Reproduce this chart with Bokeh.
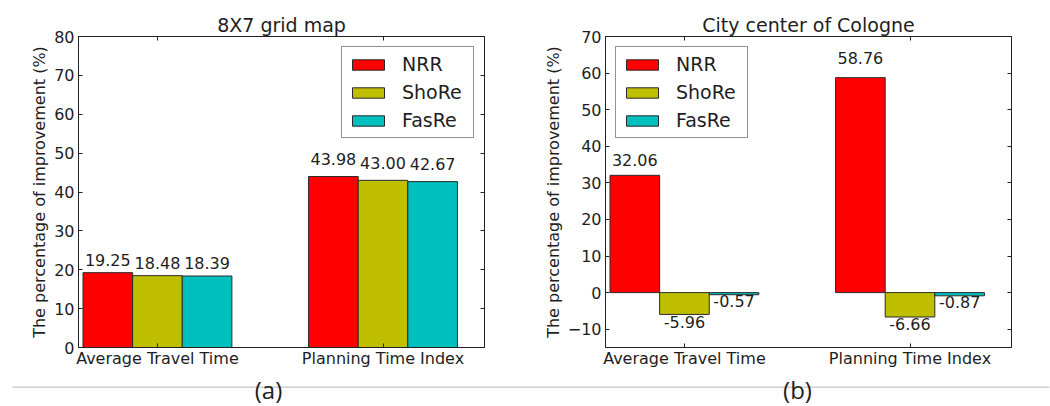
from bokeh.plotting import figure
from bokeh.layouts import row, column
from bokeh.models import (Range1d, FixedTicker, LinearAxis, Legend, LegendItem,
                          Label, BoxAnnotation, ColumnDataSource, Title)
from bokeh.core.properties import value
from bokeh.embed import file_html
from bokeh.resources import INLINE

# --- data -------------------------------------------------------------
metrics = ["Average Travel Time", "Planning Time Index"]
methods = ["NRR", "ShoRe", "FasRe"]
colors = ["#ff0000", "#bfbf00", "#00bfbf"]

grid_nrr = [19.25, 43.98]
grid_shore = [18.48, 43.00]
grid_fasre = [18.39, 42.67]

cologne_nrr = [32.06, 58.76]
cologne_shore = [-5.96, -6.66]
cologne_fasre = [-0.57, -0.87]

grid_ticks = [0, 10, 20, 30, 40, 50, 60, 70, 80]
cologne_ticks = [-10, 0, 10, 20, 30, 40, 50, 60, 70]

FONT = "DejaVu Sans"
TXT = "#1e1e1e"
EDGE = "#222222"
BAR_W = 0.22


def style_axis(ax, labels=True, standoff=4):
    ax.axis_line_color = EDGE
    ax.major_tick_line_color = EDGE
    ax.major_tick_in = 4
    ax.major_tick_out = 0
    ax.minor_tick_line_color = None
    ax.major_label_text_font = FONT
    if labels:
        ax.major_label_text_font_size = "16px"
        ax.major_label_text_color = TXT
        ax.major_label_standoff = standoff
    else:
        # tick marks only on the mirrored sides
        ax.major_label_text_font_size = "1px"
        ax.major_label_text_color = None
        ax.major_label_standoff = 0


def panel(title, series, y_lo, y_hi, yticks, legend_loc, border_left, border_right):
    p = figure(width=525, height=370, output_backend="svg", toolbar_location=None,
               x_range=Range1d(-0.35, 1.45), y_range=Range1d(y_lo, y_hi),
               min_border_left=border_left, min_border_right=border_right,
               min_border_top=36, min_border_bottom=22)
    p.xgrid.visible = False
    p.ygrid.visible = False
    p.outline_line_color = EDGE
    p.outline_line_width = 1
    p.background_fill_color = "white"
    p.border_fill_color = "white"

    p.title = Title(text=title, align="center", text_font=FONT, text_font_size="19px",
                    text_font_style="normal", text_color=TXT, standoff=2)

    xa = p.xaxis[0]
    xa.ticker = FixedTicker(ticks=[0, 1])
    xa.major_label_overrides = {0: metrics[0], 1: metrics[1]}
    style_axis(xa, standoff=1)

    ya = p.yaxis[0]
    ya.ticker = FixedTicker(ticks=yticks)
    ya.major_label_overrides = {t: str(t).replace("-", "\u2212") for t in yticks}
    style_axis(ya)
    ya.axis_label = "The percentage of improvement (%)"
    ya.axis_label_text_font = FONT
    ya.axis_label_text_font_size = "16px"
    ya.axis_label_text_font_style = "normal"
    ya.axis_label_text_color = TXT
    ya.axis_label_standoff = 2

    top = LinearAxis(ticker=FixedTicker(ticks=[0, 1]))
    style_axis(top, labels=False)
    p.add_layout(top, "above")
    right = LinearAxis(ticker=FixedTicker(ticks=yticks))
    style_axis(right, labels=False)
    p.add_layout(right, "right")

    items = []
    for k, (name, vals, col) in enumerate(zip(methods, series, colors)):
        xs = [i + (k - 1) * BAR_W for i in range(len(vals))]
        src = ColumnDataSource(dict(x=xs, top=vals))
        r = p.vbar(x="x", top="top", bottom=0, width=BAR_W, source=src,
                   fill_color=col, line_color="#2a2a2a", line_width=1)
        items.append(LegendItem(label=name, renderers=[r]))

        # value labels: above positive bars, below negative ones
        pos = [(x, v) for x, v in zip(xs, vals) if v >= 0]
        neg = [(x, v) for x, v in zip(xs, vals) if v < 0]
        for group, base, off in ((pos, "bottom", -3), (neg, "top", 0)):
            if not group:
                continue
            p.text(x=[g[0] for g in group], y=[1.05 * g[1] for g in group],
                   text=["%.2f" % g[1] for g in group],
                   text_align="center", text_baseline=base, y_offset=off,
                   text_font=value(FONT), text_font_size="16px", text_color=TXT)

    leg = Legend(items=items, location=legend_loc, margin=10, padding=6, spacing=6,
                 glyph_width=40, glyph_height=13, label_standoff=14, label_width=65,
                 label_height=13,
                 label_text_font=FONT, label_text_font_size="19px", label_text_color=TXT,
                 border_line_color=EDGE, border_line_width=1,
                 background_fill_color="white", background_fill_alpha=1)
    p.add_layout(leg)
    return p


p1 = panel("8X7 grid map", [grid_nrr, grid_shore, grid_fasre], 0, 80, grid_ticks,
           "top_right", 78, 41)
p2 = panel("City center of Cologne", [cologne_nrr, cologne_shore, cologne_fasre], -15, 70,
           cologne_ticks, "top_left", 80, 39)

# caption strip: a separator rule with the sub-figure letters
strip = figure(width=1050, height=36, output_backend="svg", toolbar_location=None,
               x_range=Range1d(0, 1050), y_range=Range1d(406, 370),
               x_axis_type=None, y_axis_type=None,
               min_border=0, min_border_left=0, min_border_right=0,
               min_border_top=0, min_border_bottom=0)
strip.outline_line_color = None
strip.xgrid.visible = False
strip.ygrid.visible = False
strip.add_layout(BoxAnnotation(left=12, right=1049, top=386, bottom=387.2,
                               fill_color="#c4c4c4", fill_alpha=1, line_alpha=0))
for cap, cx in (("(a)", 268), ("(b)", 797)):
    strip.add_layout(Label(x=cx, y=388.5, text=cap, text_align="center",
                           text_baseline="middle", text_font="Open Sans",
                           text_font_size="24px", text_color=TXT))

layout = column(row(p1, p2, spacing=0), strip, spacing=0)
open("out.html", "w").write(file_html(layout, INLINE))
